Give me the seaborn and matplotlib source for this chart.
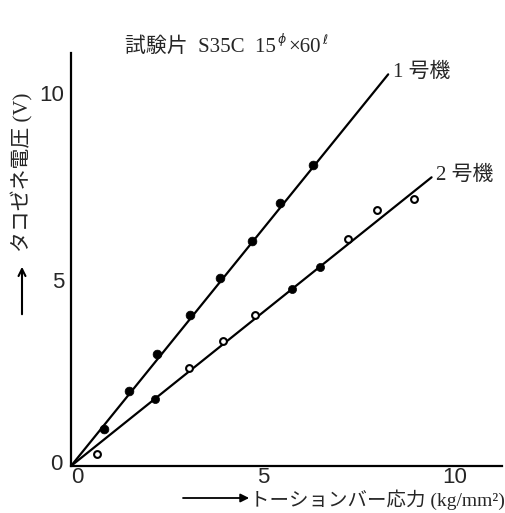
import matplotlib
matplotlib.use("Agg")
import matplotlib.pyplot as plt
import matplotlib.transforms as mtrans
import seaborn as sns
import pandas as pd

# Machine No.1 (filled markers): torsion bar stress vs tacho-generator voltage
m1_stress = [0.87, 1.50, 2.23, 3.10, 3.88, 4.72, 5.43, 6.29]
m1_volt = [0.99, 2.00, 3.00, 4.04, 5.05, 6.03, 7.05, 8.07]
# Machine No.2 (mostly open markers)
m2_stress = [0.69, 2.20, 3.08, 3.95, 4.79, 5.75, 6.48, 7.22, 7.98, 8.92]
m2_volt = [0.31, 1.80, 2.64, 3.34, 4.05, 4.75, 5.33, 6.09, 6.86, 7.16]
m2_filled = [False, True, False, False, False, True, True, False, False, False]
# Straight calibration lines through the origin
fit1_stress = [0.0, 8.26]
fit1_volt = [0.0, 10.50]
fit2_stress = [0.0, 9.39]
fit2_volt = [0.0, 7.74]

x_ticks = [0, 5, 10]
y_ticks = [0, 5, 10]
series_names = ["1 号機", "2 号機"]
title_main = "試験片  S35C  15"
x_label = "トーションバー応力 (kg/mm²)"
y_label = "タコゼネ電圧 (V)"

sns.set_style("white")
jp = ["Liberation Serif", "Noto Sans CJK JP", "DejaVu Sans"]
plt.rcParams["font.family"] = jp
FS = 15

W, H = 506, 513
fig = plt.figure(figsize=(W / 100, H / 100), dpi=100)
ax = fig.add_axes([71 / W, 1 - 466 / H, (502 - 71) / W, (466 - 53) / H])
ax.set_xlim(0, (502 - 71) / 38.4)
ax.set_ylim(0, (466 - 53) / 37.3)

df1 = pd.DataFrame({"x": m1_stress, "y": m1_volt})
df2 = pd.DataFrame({"x": m2_stress, "y": m2_volt, "f": m2_filled})

sns.lineplot(x=fit1_stress, y=fit1_volt, ax=ax, color="black", lw=1.6)
sns.lineplot(x=fit2_stress, y=fit2_volt, ax=ax, color="black", lw=1.6)
sns.scatterplot(data=df1, x="x", y="y", ax=ax, color="black", s=40,
                edgecolor="black", linewidth=0.5, zorder=5)
sns.scatterplot(data=df2[df2.f], x="x", y="y", ax=ax, color="black", s=34,
                edgecolor="black", linewidth=0.5, zorder=5)
sns.scatterplot(data=df2[~df2.f], x="x", y="y", ax=ax, facecolor="white", s=24,
                edgecolor="black", linewidth=1.5, zorder=5)

ax.text(fit1_stress[1] + 0.12, fit1_volt[1] + 0.05, series_names[0], fontsize=FS,
        ha="left", va="center", family=jp)
ax.text(fit2_stress[1] + 0.12, fit2_volt[1] + 0.05, series_names[1], fontsize=FS,
        ha="left", va="center", family=jp)

for side in ("top", "right"):
    ax.spines[side].set_visible(False)
for side in ("left", "bottom"):
    ax.spines[side].set_linewidth(1.6)
    ax.spines[side].set_color("black")

ax.set_xticks(x_ticks)
ax.set_yticks(y_ticks)
ax.set_xlabel("")
ax.set_ylabel("")
ax.tick_params(axis="y", direction="out", length=4, width=1.2, pad=1,
               labelsize=16, labelfontfamily="Liberation Sans")
ax.tick_params(axis="x", direction="in", length=4, width=1.2, pad=1,
               labelsize=16, labelfontfamily="Liberation Sans")
# nudge the two zero labels off the corner
t0x = ax.xaxis.get_major_ticks()[0].label1
t0x.set_transform(t0x.get_transform() + mtrans.ScaledTranslation(6 / 100, 0, fig.dpi_scale_trans))
t0y = ax.yaxis.get_major_ticks()[0].label1
t0y.set_transform(t0y.get_transform() + mtrans.ScaledTranslation(-2 / 100, 4 / 100, fig.dpi_scale_trans))

# title built from pieces so that phi and ell sit raised and small
fig.canvas.draw()
r = fig.canvas.get_renderer()
t1 = fig.text(125 / W, 1 - 47.5 / H, title_main, fontsize=FS, ha="left",
              va="center", family=jp)
bb = t1.get_window_extent(r)
t2 = fig.text(bb.x1 / W + 1 / W, (bb.y0 + bb.height * 0.5) / H, r"$\phi$",
              fontsize=9, ha="left", va="bottom")
bb2 = t2.get_window_extent(r)
t3 = fig.text(bb2.x1 / W + 2 / W, 1 - 47.5 / H, "×60", fontsize=FS, ha="left",
              va="center", family=jp)
bb3 = t3.get_window_extent(r)
fig.text(bb3.x1 / W + 1 / W, (bb.y0 + bb.height * 0.5) / H, r"$\ell$",
         fontsize=9, ha="left", va="bottom")

# axis captions with leading arrows
xl = fig.text(505 / W, 1 - 500 / H, x_label, fontsize=14, ha="right",
              va="center", family=jp)
xb = xl.get_window_extent(r)
fig.add_artist(matplotlib.patches.FancyArrowPatch(
    (183 / W, 1 - 498 / H), ((xb.x0 - 1) / W, 1 - 498 / H), transform=fig.transFigure,
    arrowstyle="-|>,head_length=5,head_width=2.5", lw=1.3, color="black",
    shrinkA=0, shrinkB=0))
fig.text(22 / W, 1 - 172 / H, y_label, fontsize=FS, rotation=90, ha="center",
         va="center", family=jp)
fig.add_artist(matplotlib.patches.FancyArrowPatch(
    (22 / W, 1 - 317 / H), (22 / W, 1 - 264 / H), transform=fig.transFigure,
    arrowstyle="->,head_length=5,head_width=2.5", lw=1.5, color="black"))

fig.savefig("out.png", dpi=100, facecolor="white")
